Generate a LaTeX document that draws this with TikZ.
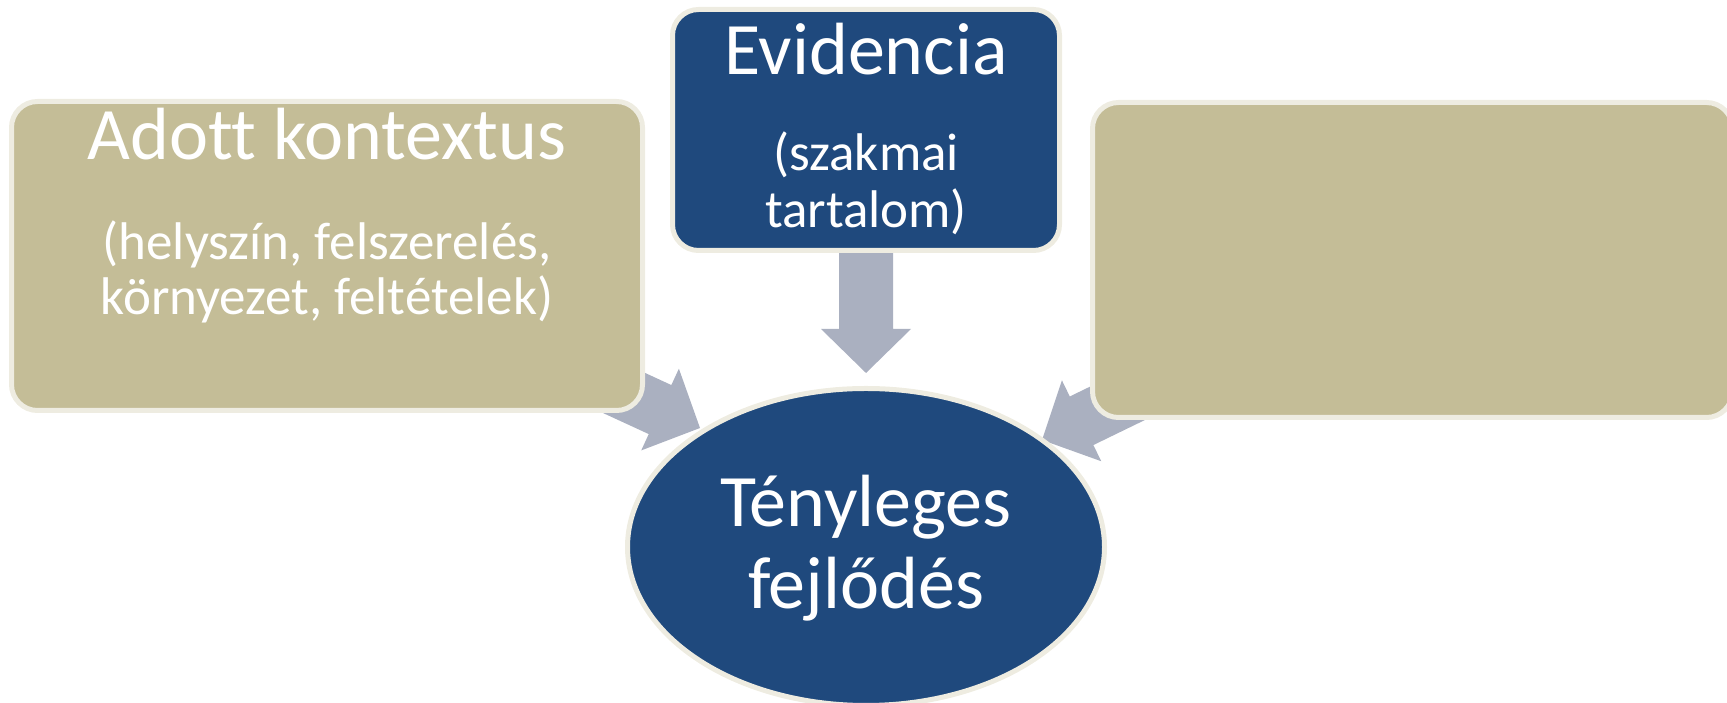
\documentclass[tikz,border=0pt]{standalone}
\usepackage{fontspec}
\setmainfont[Ligatures=NoCommon]{Carlito}
\usetikzlibrary{shapes.geometric,calc,backgrounds}
\definecolor{boxtan}{HTML}{C4BD97}
\definecolor{boxblue}{HTML}{1F497D}
\definecolor{rim}{HTML}{EEECE1}
\definecolor{arrowgray}{HTML}{AAB0C0}

\tikzset{
  card/.style={draw=rim, line width=5pt, rounded corners=26pt, inner sep=0pt},
  big/.style={text=white, font=\fontsize{74}{82}\selectfont, align=center},
  small/.style={text=white, font=\fontsize{53}{55}\selectfont, align=center},
}

% wide grey arrow, from #1 to the tip #2
\newcommand{\blockarrow}[2]{%
  \coordinate (ab) at ($(#2)!44pt!(#1)$);
  \fill[arrowgray] ($(#1)!27pt!90:(#2)$) -- ($(ab)!27pt!90:(#2)$) -- ($(ab)!45pt!90:(#2)$) -- (#2)
    -- ($(ab)!45pt!-90:(#2)$) -- ($(ab)!27pt!-90:(#2)$) -- ($(#1)!27pt!-90:(#2)$) -- cycle;}

\begin{document}
\begin{tikzpicture}[x=1pt, y=1pt]
  \useasboundingbox (0,0) rectangle (1727,703);
  % boxes
  \node[card, fill=boxtan, minimum width=631pt, minimum height=309pt] (ctx) at (327,447) {};
  \node[card, fill=boxblue, minimum width=387pt, minimum height=241pt] (ev) at (866,573) {};
  \node[card, fill=boxtan, minimum width=640pt, minimum height=315pt] (rc) at (1412.5,443) {};
  \node[ellipse, draw=rim, line width=5pt, fill=boxblue, minimum width=477pt, minimum height=317pt, inner sep=0pt] (real) at (866,156) {};
  % texts (base = last line)
  \node[big, anchor=base] (ctxtitle) at ([yshift=-60.5pt]ctx.north) {Adott kontextus};
  \node[small, anchor=base] (ctxsub) at ([yshift=-215.5pt]ctx.north) {(helyszín, felszerelés,\\környezet, feltételek)};
  \node[big, anchor=base] (evtitle) at ([yshift=-67.5pt]ev.north) {Evidencia};
  \node[small, font=\fontsize{53}{57}\selectfont, anchor=base] (evsub) at ([yshift=-220.5pt]ev.north) {(szakmai\\tartalom)};
  \node[big, anchor=base] (realtext) at ([yshift=-62pt]real.center) {Tényleges\\fejlődés};
  % arrows
  \coordinate (tipl) at (700,275);
  \coordinate (tipr) at (1042,263);
  \coordinate (tipd) at (866,330);
  \begin{pgfonlayer}{background}
    \blockarrow{ctx.center}{tipl}
    \blockarrow{rc.center}{tipr}
    \blockarrow{ev.center}{tipd}
  \end{pgfonlayer}
\end{tikzpicture}
\end{document}
